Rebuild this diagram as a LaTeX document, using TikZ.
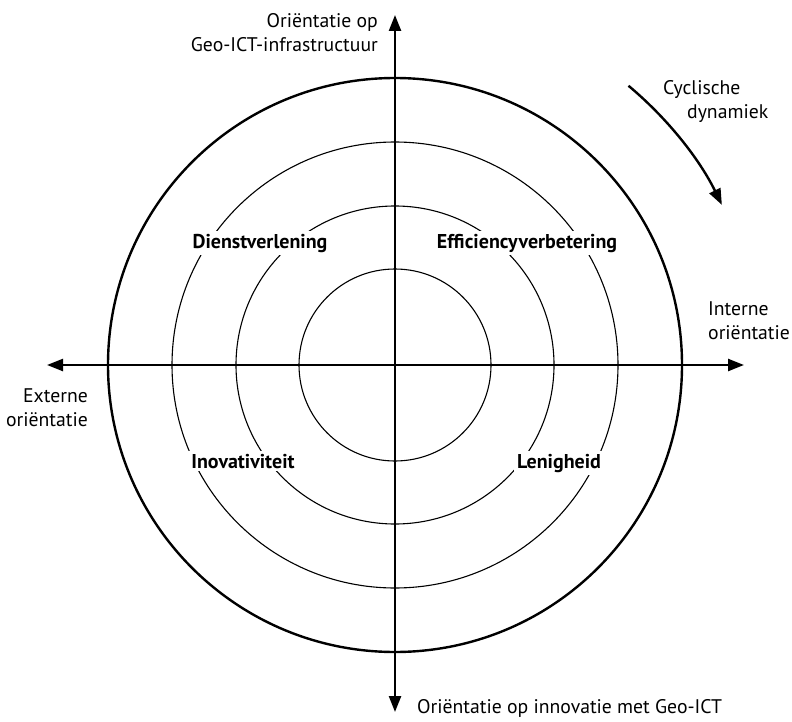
\documentclass[tikz,border=0pt]{standalone}
\usepackage{fontspec}
\setmainfont{PT Sans}
\usetikzlibrary{arrows.meta,calc}
\begin{document}
\begin{tikzpicture}[x=1pt,y=-1pt,
  tip/.style={-{Triangle[length=16pt,width=12pt]}},
  axis/.style={line width=2.4pt,tip},
  ring/.style={line width=1.1pt},
  rim/.style={line width=2.4pt},
  quad/.style={fill=white,inner sep=3pt,anchor=base,font=\fontsize{20}{24}\selectfont\bfseries},
  lbl/.style={inner sep=0pt,font=\fontsize{19.7}{24}\selectfont}]
\useasboundingbox (0,0) rectangle (792,722);
\coordinate (c) at (395,365);
% concentric rings
\draw[ring] (c) circle[radius=96pt];
\draw[ring] (c) circle[radius=159pt];
\draw[ring] (c) circle[radius=223pt];
\draw[rim] (c) circle[radius=287pt];
% axes
\coordinate (top) at (395,15);
\coordinate (bot) at (395,712);
\coordinate (lft) at (47,365);
\coordinate (rgt) at (744,365);
\draw[axis] (c) -- (top);
\draw[axis] (c) -- (bot);
\draw[axis] (c) -- (lft);
\draw[axis] (c) -- (rgt);
% quadrant labels
\node[quad] (q1) at (260,248) {Dienstverlening};
\node[quad] (q2) at (527,248) {Efficiencyverbetering};
\node[quad] (q3) at (243,468) {Inovativiteit};
\node[quad] (q4) at (559,468) {Lenigheid};
% axis labels
\node[lbl,anchor=base east] (ttop1) at (378,28) {Oriëntatie op};
\node[lbl,anchor=base east] (ttop2) at (378,52) {Geo-ICT-infrastructuur};
\node[lbl,anchor=base west] (tbot) at (417,713) {Oriëntatie op innovatie met Geo-ICT};
\node[lbl,anchor=base east] (tlft1) at (88,402) {Externe};
\node[lbl,anchor=base east] (tlft2) at (88,426) {oriëntatie};
\node[lbl,anchor=base west] (trgt1) at (708,315) {Interne};
\node[lbl,anchor=base west] (trgt2) at (708,339) {oriëntatie};
% cyclic dynamics
\coordinate (cs) at ($(c)+(50.1:364pt)$);
\draw[line width=2.4pt,tip] (cs) arc[start angle=50.1,end angle=26.1,radius=364pt];
\node[lbl,anchor=base west] (cy1) at (663,95) {Cyclische};
\node[lbl,anchor=base west] (cy2) at (687,119) {dynamiek};
\end{tikzpicture}
\end{document}
